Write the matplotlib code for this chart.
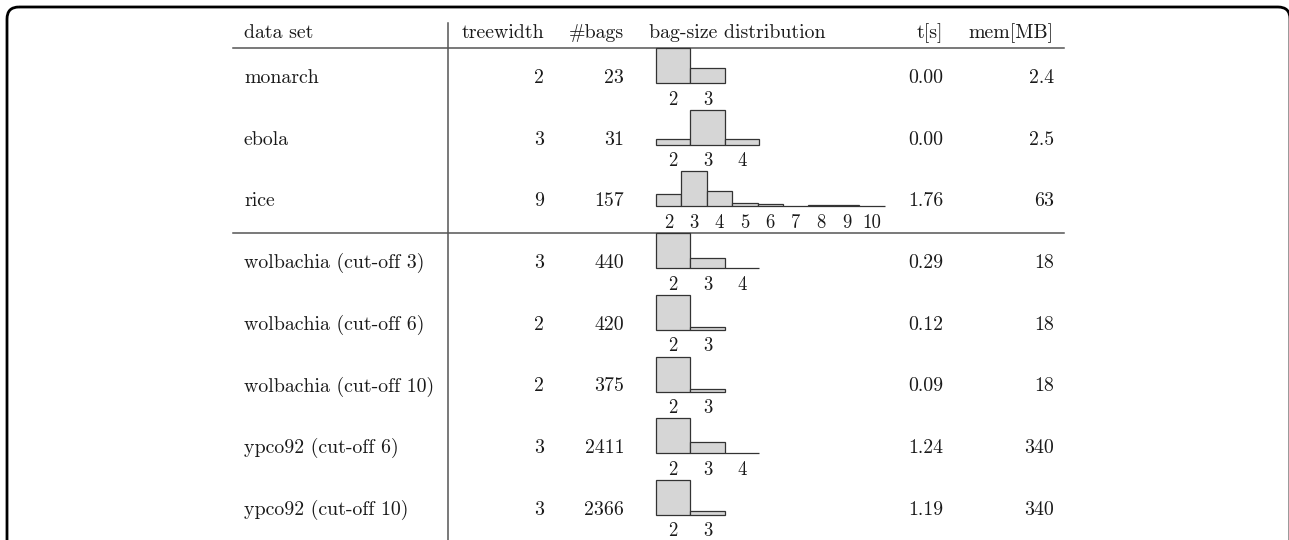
import numpy as np
import matplotlib
matplotlib.use("Agg")
import matplotlib.pyplot as plt
from matplotlib.patches import FancyBboxPatch

plt.rcParams['font.family'] = ['cmr10', 'DejaVu Serif']
plt.rcParams['axes.unicode_minus'] = False

# table data
headers = ["data set", "treewidth", "#bags", "bag-size distribution", "t[s]", "mem[MB]"]
datasets = ["monarch", "ebola", "rice",
            "wolbachia (cut-off 3)", "wolbachia (cut-off 6)", "wolbachia (cut-off 10)",
            "ypco92 (cut-off 6)", "ypco92 (cut-off 10)"]
treewidth = [2, 3, 9, 3, 2, 2, 3, 3]
bags = [23, 31, 157, 440, 420, 375, 2411, 2366]
times = ["0.00", "0.00", "1.76", "0.29", "0.12", "0.09", "1.24", "1.19"]
mem = ["2.4", "2.5", "63", "18", "18", "18", "340", "340"]

# bag-size histograms (bag size -> count), estimated from the bars
bag_sizes = [[2, 3], [2, 3, 4], [2, 3, 4, 5, 6, 7, 8, 9, 10],
             [2, 3, 4], [2, 3], [2, 3], [2, 3, 4], [2, 3]]
bag_counts = [[16, 7], [4, 23, 4], [26, 75, 34, 8, 6, 1, 4, 2, 1],
              [336, 101, 3], [385, 35], [347, 28], [1822, 583, 6], [2150, 216]]

W, H = 1289, 540
fig = plt.figure(figsize=(W / 100, H / 100), dpi=100)
ax = fig.add_axes([0, 0, 1, 1])
ax.set_xlim(0, W)
ax.set_ylim(H, 0)
ax.axis('off')

txt = '#1a1a1a'
rule = '#555555'
fs = 14.3

# rounded frame around the figure
frame = FancyBboxPatch((7, 7), 1283, 700, boxstyle="round,pad=0,rounding_size=12",
                       fill=False, ec='black', lw=2)
ax.add_patch(frame)

# column anchors (pixels)
x_name = 244
x_tw = 544
x_bags = 624
x_hist = 649
x_t = 943
x_mem = 1054
x_vline = 448
y_head = 33
row0 = 78
dy = 61.7

ax.text(x_name, y_head, headers[0], ha='left', va='center', fontsize=fs, color=txt)
ax.text(x_tw, y_head, headers[1], ha='right', va='center', fontsize=fs, color=txt)
ax.text(x_bags, y_head, headers[2], ha='right', va='center', fontsize=fs, color=txt)
ax.text(x_hist, y_head, headers[3], ha='left', va='center', fontsize=fs, color=txt)
ax.text(x_t, y_head, headers[4], ha='right', va='center', fontsize=fs, color=txt)
ax.text(x_mem, y_head, headers[5], ha='right', va='center', fontsize=fs, color=txt)

ax.plot([233, 1064], [48, 48], color=rule, lw=1.1)
ax.plot([233, 1064], [233, 233], color=rule, lw=1.1)
ax.plot([x_vline, x_vline], [23, H + 5], color=rule, lw=1.1)

for i, name in enumerate(datasets):
    y = row0 + i * dy
    ax.text(x_name, y, name, ha='left', va='center', fontsize=fs, color=txt)
    ax.text(x_tw, y, str(treewidth[i]), ha='right', va='center', fontsize=fs, color=txt)
    ax.text(x_bags, y, str(bags[i]), ha='right', va='center', fontsize=fs, color=txt)
    ax.text(x_t, y, times[i], ha='right', va='center', fontsize=fs, color=txt)
    ax.text(x_mem, y, mem[i], ha='right', va='center', fontsize=fs, color=txt)

    # small histogram in its own axes
    sizes = bag_sizes[i]
    counts = bag_counts[i]
    binw = 25.4 if len(sizes) > 5 else 34.3
    base = y + 5
    hh = 35
    left = 656
    wid = binw * len(sizes)
    hax = fig.add_axes([left / W, 1 - base / H, wid / W, hh / H])
    hax.bar(sizes, counts, width=1, color='#d6d6d6', edgecolor='#333333',
            linewidth=0.9, clip_on=False)
    hax.set_xlim(sizes[0] - 0.5, sizes[-1] + 0.5)
    hax.set_ylim(0, max(counts))
    hax.set_xticks(sizes)
    hax.set_xticklabels([str(s) for s in sizes], fontsize=13.5, color=txt)
    hax.tick_params(axis='x', length=0, pad=5.5)
    hax.set_yticks([])
    for s in hax.spines.values():
        s.set_visible(False)
    hax.patch.set_alpha(0)

fig.savefig('out.png', dpi=100)
